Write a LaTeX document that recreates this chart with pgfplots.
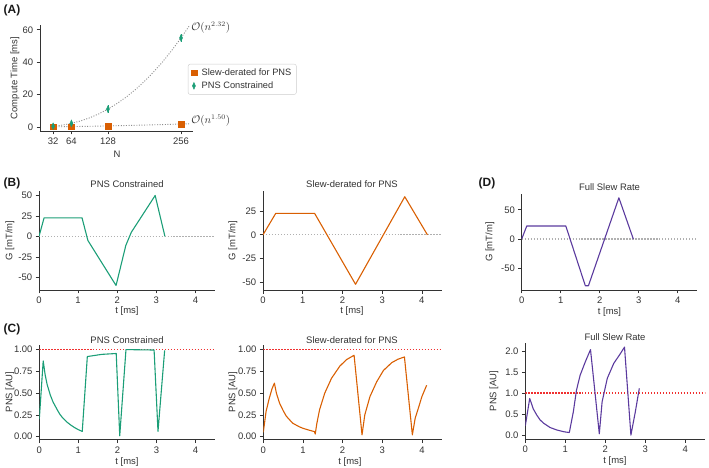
\documentclass[border=0pt]{standalone}
\usepackage{fontspec}
\setmainfont{Liberation Sans}
\usepackage{pgfplots}
\pgfplotsset{compat=1.18}
\definecolor{cgreen}{HTML}{1B9E77}
\definecolor{corange}{HTML}{D95F02}
\definecolor{cpurple}{HTML}{5B3A9E}
\definecolor{ctext}{HTML}{333333}
\definecolor{cgrid}{HTML}{B0B0B0}
\definecolor{cred}{HTML}{F03030}
\newcommand{\fs}{\fontsize{9.5}{11}\selectfont}
\pgfplotsset{
 base/.style={
  scale only axis,
  axis x line*=bottom, axis y line*=left,
  axis line style={-, ctext, line width=0.7pt},
  tick align=outside, major tick length=3.5bp,
  every tick/.style={ctext, line width=0.7pt},
  tick label style={font=\fs, text=ctext},
  /pgf/number format/assume math mode=true,
  anchor=north west,
 },
 gax/.style={base, xmin=0, xmax=4.5, xtick={0,1,2,3,4}},
}
\tikzset{
 zeroline/.style={draw=cgrid, dash pattern=on 1.3pt off 1.7pt, line width=1.1pt},
 oneline/.style={draw=cred, dash pattern=on 1.4pt off 1.6pt, line width=1.2pt},
 dl/.style={line width=1.1pt, line join=round},
}
\begin{document}
\begin{tikzpicture}[x=1bp,y=1bp]
\fs
% ---------------- Panel A ----------------
\begin{axis}[base, at={(40bp,443bp)}, width=153bp, height=106bp,
  xmin=9, xmax=277, ymin=-2.5, ymax=63,
  xtick={32,64,128,256}, ytick={0,20,40,60},
  legend style={at={(0.967,0.632)}, anchor=north west, draw=black!20, rounded corners=2pt,
    font=\fontsize{9.3}{11}\selectfont, fill=white, inner xsep=3pt, inner ysep=2.5pt, row sep=1pt,
    text=ctext, /tikz/every odd column/.append style={column sep=3bp}},
  legend cell align=left]
\addplot[draw=cgrid!80!black, dash pattern=on 1pt off 1.6pt, line width=0.9pt, forget plot] coordinates {
 (28,0.32) (32,0.44) (48,1.13) (64,2.21) (80,3.70) (96,5.65) (112,8.08) (128,11.02)
 (144,14.48) (160,18.49) (176,23.06) (192,28.22) (208,33.97) (224,40.35) (240,47.36)
 (256,55.0) (270,62.2)};
\addplot[draw=cgrid!80!black, dash pattern=on 1pt off 1.6pt, line width=0.9pt, forget plot] coordinates {
 (28,0.065) (64,0.225) (96,0.41) (128,0.636) (160,0.89) (192,1.169) (224,1.47) (256,1.8) (270,1.95)};
\addplot[only marks, mark=square*, mark size=2.8bp, color=corange] coordinates {
 (32,0.1) (64,0.25) (128,0.6) (256,1.8)};
\addlegendentry{Slew-derated for PNS}
\addplot[only marks, mark=diamond*, mark size=3.4bp, mark options={xscale=0.6}, color=cgreen,
  error bars/.cd, y dir=both, y explicit, error mark=none,
  error bar style={cgreen, line width=0.8pt}] coordinates {
 (32,0.45) +- (0,1.2) (64,2.2) +- (0,1.5) (128,11) +- (0,2.5) (256,55) +- (0,2.5)};
\addlegendentry{PNS Constrained}
\end{axis}
\node[anchor=west, text=ctext, font=\fontsize{10.5}{12}\selectfont] at (188,440.3) {$\mathcal{O}(n^{2.32})$};
\node[anchor=west, text=ctext, font=\fontsize{10.5}{12}\selectfont] at (188,347.3) {$\mathcal{O}(n^{1.50})$};
\node[rotate=90, text=ctext] at (15,390) {Compute Time [ms]};
\node[text=ctext] at (117,314) {N};
% ---------------- Panel B1 ----------------
\begin{axis}[gax, at={(39bp,277bp)}, width=176bp, height=99bp,
  ymin=-65.5, ymax=55.5, ytick={-50,-25,0,25,50}]
\addplot[zeroline, forget plot] coordinates {(0,0) (4.5,0)};
\addplot[dl, cgreen] coordinates {(0,0) (0.13,22.7) (1.1,22.7) (1.25,-5) (1.97,-60) (2.22,-11) (2.36,5) (2.97,50) (3.22,0)};
\end{axis}
% ---------------- Panel B2 ----------------
\begin{axis}[gax, at={(263bp,276.5bp)}, width=178.7bp, height=99bp,
  ymin=-58.5, ymax=45.5, ytick={-50,-25,0,25}]
\addplot[zeroline, forget plot] coordinates {(0,0) (4.5,0)};
\addplot[dl, corange] coordinates {(0,0) (0.32,22.5) (1.3,22.5) (2.33,-52) (3.57,40) (4.14,0)};
\end{axis}
% ---------------- Panel D (G) ----------------
\begin{axis}[gax, at={(521.7bp,273.7bp)}, width=175.6bp, height=95.7bp,
  ymin=-87.3, ymax=76.5, ytick={-50,0,50}]
\addplot[zeroline, forget plot] coordinates {(0,0) (4.5,0)};
\addplot[dl, cpurple] coordinates {(0,0) (0.13,22.3) (1.13,22.3) (1.63,-80) (1.71,-80) (2.49,70.5) (2.86,0)};
\end{axis}
% ---------------- Panel C1 ----------------
\begin{axis}[gax, at={(39.3bp,123.2bp)}, width=175.7bp, height=94.9bp,
  ymin=-0.035, ymax=1.055, ytick={0,0.25,0.5,0.75,1},
  yticklabel style={/pgf/number format/.cd, fixed, fixed zerofill, precision=2}]
\addplot[oneline, forget plot] coordinates {(0,1) (4.5,1)};
\addplot[dl, cgreen] coordinates {(0,0.2) (0.10,0.87) (0.15,0.71) (0.2,0.60) (0.28,0.48) (0.35,0.40)
 (0.41,0.35) (0.47,0.30) (0.53,0.255) (0.6,0.215) (0.7,0.17) (0.8,0.135) (0.9,0.105) (1.0,0.08) (1.1,0.06)
 (1.23,0.92) (1.6,0.945) (1.97,0.955) (2.06,0.01) (2.22,1.0) (2.94,0.995) (3.04,0.06) (3.21,0.99)};
\end{axis}
% ---------------- Panel C2 ----------------
\begin{axis}[gax, at={(263.3bp,123.2bp)}, width=178.4bp, height=94.9bp,
  ymin=-0.035, ymax=1.055, ytick={0,0.25,0.5,0.75,1},
  yticklabel style={/pgf/number format/.cd, fixed, fixed zerofill, precision=2}]
\addplot[oneline, forget plot] coordinates {(0,1) (4.5,1)};
\addplot[dl, corange] coordinates {(0,0.05) (0.07,0.29) (0.15,0.44) (0.22,0.55) (0.28,0.615)
 (0.33,0.50) (0.41,0.385) (0.5,0.30) (0.58,0.235) (0.74,0.155) (0.9,0.115) (1.0,0.096) (1.15,0.075) (1.29,0.058)
 (1.31,0.03) (1.35,0.15) (1.42,0.31) (1.55,0.50) (1.72,0.67) (1.93,0.81) (2.1,0.885) (2.29,0.935)
 (2.49,0.02) (2.56,0.25) (2.69,0.46) (2.86,0.63) (3.03,0.76) (3.24,0.85) (3.4,0.89) (3.56,0.915)
 (3.76,0.02) (3.83,0.21) (3.92,0.34) (4.0,0.46) (4.12,0.59)};
\end{axis}
% ---------------- Panel D (PNS) ----------------
\begin{axis}[gax, at={(525.3bp,124.7bp)}, width=180bp, height=96bp,
  ymin=-0.1, ymax=2.18, ytick={0,0.5,1,1.5,2},
  yticklabel style={/pgf/number format/.cd, fixed, fixed zerofill, precision=1}]
\addplot[oneline, forget plot] coordinates {(0,1) (4.5,1)};
\addplot[dl, cpurple] coordinates {(0,0.22) (0.11,0.87) (0.2,0.62) (0.29,0.47) (0.37,0.36) (0.46,0.28)
 (0.62,0.18) (0.79,0.12) (0.96,0.08) (1.1,0.06) (1.2,0.55) (1.28,1.07) (1.37,1.42) (1.5,1.74) (1.63,2.03)
 (1.85,0.03) (1.92,0.79) (2.05,1.35) (2.21,1.70) (2.38,1.94) (2.48,2.09) (2.64,0.0) (2.75,0.55) (2.85,1.11)};
\end{axis}
% ---------------- labels ----------------
\begin{scope}[every node/.style={text=ctext}]
\node at (127,284) {PNS Constrained};
\node at (352,284) {Slew-derated for PNS};
\node at (609.5,280.5) {Full Slew Rate};
\node at (127,128) {PNS Constrained};
\node at (352,128) {Slew-derated for PNS};
\node at (615,131) {Full Slew Rate};
\node at (127,157) {t [ms]};
\node at (352,157) {t [ms]};
\node at (609.5,156.3) {t [ms]};
\node at (127,6) {t [ms]};
\node at (350,6) {t [ms]};
\node at (615,7) {t [ms]};
\node[rotate=90] at (10,227.5) {G [mT/m]};
\node[rotate=90] at (233,227.5) {G [mT/m]};
\node[rotate=90] at (490,226) {G [mT/m]};
\node[rotate=90] at (10,76) {PNS [AU]};
\node[rotate=90] at (233,76) {PNS [AU]};
\node[rotate=90] at (494,77) {PNS [AU]};
\end{scope}
\begin{scope}[every node/.style={font=\fontsize{12}{14}\selectfont\bfseries, text=black!90}]
\node at (12,458) {(A)};
\node at (12,285) {(B)};
\node at (12,139) {(C)};
\node at (487,285) {(D)};
\end{scope}
\pgfresetboundingbox
\path (0,0) rectangle (709,468);
\end{tikzpicture}
\end{document}
